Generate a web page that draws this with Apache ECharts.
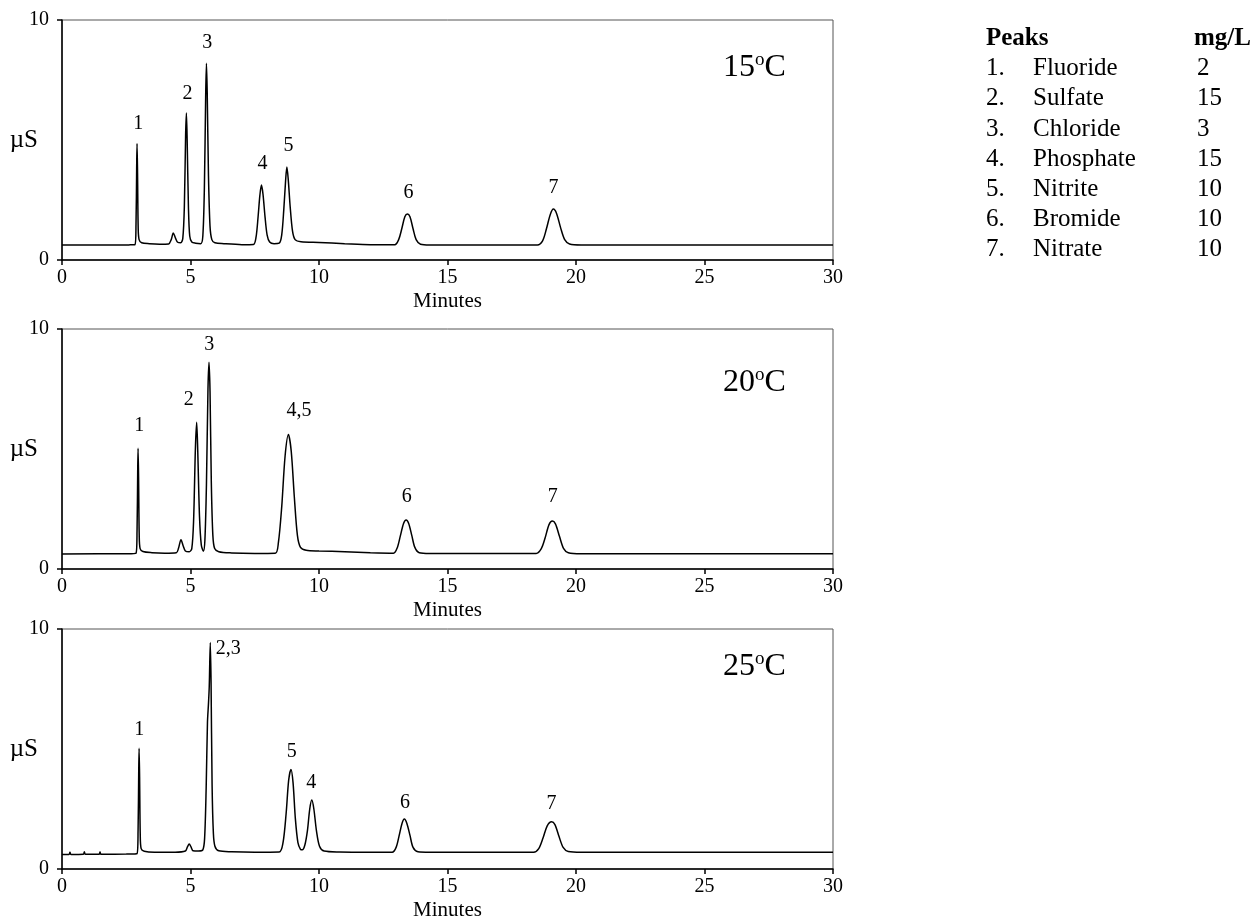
<!DOCTYPE html>
<html>
<head>
<meta charset="utf-8">
<title>Chromatograms at 15, 20 and 25 C</title>
<script src="https://cdn.jsdelivr.net/npm/echarts@6/dist/echarts.min.js"></script>
<style>
  html, body { margin: 0; padding: 0; background: #fff; }
  #chart { width: 1251px; height: 919px; }
</style>
</head>
<body>
<div id="chart"></div>
<script>
// data: [minutes, µS]
var trace15 = [
  [0, 0.62], [1.7, 0.62], [2.6, 0.63], [2.84, 0.64], [2.88, 1.5], [2.905, 3.8], [2.92, 4.85], [2.94, 3.6], [2.965, 1.3], [3.0, 0.85], [3.1, 0.72],
  [3.4, 0.68], [3.8, 0.66], [4.15, 0.67], [4.25, 0.85], [4.33, 1.12], [4.42, 0.9], [4.5, 0.74], [4.62, 0.72],
  [4.7, 0.9], [4.76, 2.2], [4.81, 5.2], [4.84, 6.12], [4.87, 5.0], [4.92, 2.2], [4.97, 1.0], [5.05, 0.75], [5.2, 0.7],
  [5.4, 0.68], [5.48, 1.0], [5.54, 3.0], [5.59, 6.8], [5.62, 8.2], [5.65, 7.0], [5.7, 3.5], [5.76, 1.4], [5.83, 0.85], [5.95, 0.72],
  [6.3, 0.68], [7, 0.64], [7.45, 0.65], [7.55, 0.95], [7.63, 1.8], [7.7, 2.7], [7.76, 3.12], [7.82, 2.75], [7.9, 1.8], [7.98, 1.05], [8.08, 0.75],
  [8.25, 0.68], [8.45, 0.7], [8.55, 1.05], [8.63, 2.1], [8.7, 3.3], [8.75, 3.87], [8.8, 3.4], [8.88, 2.2], [8.97, 1.2], [9.07, 0.85],
  [9.3, 0.76], [10, 0.73], [11, 0.68], [12, 0.64], [12.95, 0.64], [13.1, 0.85], [13.22, 1.3], [13.34, 1.8], [13.44, 1.92], [13.54, 1.8],
  [13.66, 1.3], [13.78, 0.85], [13.95, 0.66], [14.3, 0.63], [18.5, 0.63], [18.7, 0.8], [18.85, 1.3], [19.0, 1.9], [19.12, 2.12],
  [19.24, 1.95], [19.4, 1.35], [19.56, 0.85], [19.75, 0.67], [20.2, 0.63], [30, 0.63]
];
var trace20 = [
  [0, 0.63], [2.5, 0.64], [2.88, 0.66], [2.92, 1.6], [2.945, 4.0], [2.96, 5.03], [2.98, 3.8], [3.005, 1.4], [3.04, 0.85], [3.15, 0.73],
  [3.5, 0.68], [4.0, 0.66], [4.45, 0.68], [4.53, 0.85], [4.63, 1.22], [4.72, 0.95], [4.8, 0.75], [4.95, 0.72],
  [5.05, 0.85], [5.12, 2.0], [5.19, 5.0], [5.24, 6.11], [5.28, 5.0], [5.35, 2.2], [5.42, 1.0], [5.5, 0.74],
  [5.56, 1.2], [5.62, 3.5], [5.68, 7.5], [5.72, 8.61], [5.76, 7.4], [5.81, 3.6], [5.87, 1.4], [5.94, 0.85], [6.1, 0.72],
  [6.6, 0.67], [7.5, 0.65], [8.3, 0.66], [8.42, 1.1], [8.55, 2.6], [8.68, 4.7], [8.81, 5.6], [8.92, 4.9], [9.04, 3.0], [9.16, 1.4],
  [9.28, 0.9], [9.5, 0.78], [10, 0.75], [11, 0.72], [12, 0.68], [12.9, 0.66], [13.05, 0.9], [13.17, 1.4], [13.29, 1.9], [13.39, 2.04],
  [13.49, 1.9], [13.61, 1.4], [13.73, 0.9], [13.9, 0.68], [14.3, 0.65], [18.45, 0.65], [18.65, 0.85], [18.8, 1.3], [18.95, 1.85],
  [19.08, 2.0], [19.2, 1.88], [19.36, 1.35], [19.52, 0.85], [19.7, 0.68], [20.2, 0.64], [30, 0.64]
];
var trace25 = [
  [0, 0.6], [0.27, 0.6], [0.31, 0.7], [0.35, 0.6], [0.83, 0.61], [0.87, 0.72], [0.91, 0.61], [1.44, 0.61], [1.48, 0.71], [1.52, 0.61],
  [2.5, 0.62], [2.92, 0.64], [2.96, 1.6], [2.985, 4.0], [3.0, 5.03], [3.02, 3.8], [3.045, 1.4], [3.08, 0.85], [3.2, 0.74],
  [3.6, 0.7], [4.4, 0.7], [4.8, 0.75], [4.88, 0.92], [4.95, 1.04], [5.02, 0.92], [5.1, 0.76], [5.3, 0.75],
  [5.48, 0.8], [5.55, 1.3], [5.61, 3.4], [5.66, 6.1], [5.7, 6.9], [5.73, 7.6], [5.77, 9.44], [5.8, 7.8], [5.84, 3.5], [5.89, 1.5],
  [5.95, 0.95], [6.1, 0.76], [6.6, 0.72], [7.5, 0.7], [8.45, 0.71], [8.6, 1.1], [8.72, 2.3], [8.82, 3.7], [8.91, 4.15], [8.99, 3.6],
  [9.08, 2.1], [9.18, 1.1], [9.28, 0.82], [9.35, 0.8], [9.45, 1.0], [9.55, 1.6], [9.64, 2.5], [9.72, 2.87], [9.8, 2.5], [9.9, 1.6],
  [10.02, 0.95], [10.2, 0.75], [10.8, 0.71], [12, 0.7], [12.85, 0.7], [13.0, 0.9], [13.12, 1.4], [13.23, 1.9], [13.32, 2.08],
  [13.42, 1.9], [13.54, 1.4], [13.66, 0.9], [13.85, 0.72], [14.3, 0.7], [18.35, 0.7], [18.55, 0.85], [18.72, 1.3], [18.88, 1.8],
  [19.05, 1.97], [19.18, 1.85], [19.34, 1.35], [19.5, 0.9], [19.7, 0.73], [20.2, 0.7], [30, 0.7]
];

// peak labels: [minutes, µS, text]
var labels15 = [[2.97, 5.68, '1'], [4.88, 6.93, '2'], [5.65, 9.07, '3'], [7.8, 4.01, '4'], [8.81, 4.78, '5'], [13.48, 2.82, '6'], [19.12, 3.0, '7']];
var labels20 = [[3.01, 5.97, '1'], [4.93, 7.05, '2'], [5.73, 9.35, '3'], [9.22, 6.61, '4,5'], [13.41, 3.03, '6'], [19.1, 3.0, '7']];
var labels25 = [[3.01, 5.8, '1'], [6.47, 9.17, '2,3'], [8.94, 4.9, '5'], [9.7, 3.61, '4'], [13.35, 2.78, '6'], [19.05, 2.71, '7']];

var temps = ['15', '20', '25'];
var xTicks = [0, 5, 10, 15, 20, 25, 30];

var peakNames = ['Fluoride', 'Sulfate', 'Chloride', 'Phosphate', 'Nitrite', 'Bromide', 'Nitrate'];
var peakConc = ['2', '15', '3', '15', '10', '10', '10'];

var font = '"Liberation Serif", "Times New Roman", "DejaVu Serif", serif';

var chart = echarts.init(document.getElementById('chart'));

var traces = [trace15, trace20, trace25];
var peakLabels = [labels15, labels20, labels25];
var gridTops = [20, 329, 629];
var tempTops = [51, 366, 650];

var grids = [], xAxes = [], yAxes = [], series = [], titles = [];

gridTops.forEach(function (top, i) {
  grids.push({
    left: 62, top: top, width: 771, height: 240,
    outerBoundsMode: 'none',
    show: true, borderColor: '#555', borderWidth: 1
  });
  xAxes.push({
    gridIndex: i, type: 'value', min: 0, max: 30, interval: 5,
    name: 'Minutes', nameLocation: 'middle', nameGap: 31, nameMoveOverlap: false,
    nameTextStyle: { color: '#000', fontFamily: font, fontSize: 21 },
    axisLine: { lineStyle: { color: '#000', width: 1.5 } },
    axisTick: { length: 5, lineStyle: { color: '#000', width: 1.5 } },
    axisLabel: {
      color: '#000', fontFamily: font, fontSize: 20, margin: 8,
      formatter: function (v) { return xTicks.indexOf(v) >= 0 ? String(v) : ''; }
    },
    splitLine: { show: false }
  });
  yAxes.push({
    gridIndex: i, type: 'value', min: 0, max: 10, interval: 10,
    name: 'µS', nameLocation: 'middle', nameRotate: 0, nameGap: 24, nameMoveOverlap: false,
    nameTextStyle: { color: '#000', fontFamily: font, fontSize: 25 },
    axisLine: { show: true, lineStyle: { color: '#000', width: 1.5 } },
    axisTick: { show: true, length: 5, lineStyle: { color: '#000', width: 1.5 } },
    axisLabel: { color: '#000', fontFamily: font, fontSize: 20, margin: 13 },
    splitLine: { show: false }
  });
  series.push({
    type: 'line', xAxisIndex: i, yAxisIndex: i,
    data: traces[i], showSymbol: false, smooth: 0.3,
    lineStyle: { color: '#000', width: 1.5 },
    silent: true, animation: false
  });
  series.push({
    type: 'scatter', xAxisIndex: i, yAxisIndex: i,
    symbolSize: 0,
    itemStyle: { opacity: 1 },
    data: peakLabels[i].map(function (p) { return { value: [p[0], p[1]], name: p[2] }; }),
    label: {
      show: true, position: 'inside', formatter: '{b}', opacity: 1,
      color: '#000', fontFamily: font, fontSize: 20
    },
    silent: true, animation: false
  });
  titles.push({
    left: 723, top: tempTops[i], padding: 0,
    text: '{n|' + temps[i] + '}{s|o}{n|C}',
    textStyle: {
      fontWeight: 'normal',
      rich: {
        n: { fontFamily: font, fontSize: 32, fontWeight: 'normal', color: '#000', lineHeight: 34 },
        s: { fontFamily: font, fontSize: 19, fontWeight: 'normal', color: '#000', verticalAlign: 'top', lineHeight: 34 }
      }
    }
  });
});

// legend table on the right
var graphics = [];
var rowY = function (r) { return 40 + 30.2 * r; };
graphics.push({ type: 'text', left: 986, top: rowY(0) - 14, style: { text: 'Peaks', font: 'bold 25px ' + font, fill: '#000' } });
graphics.push({ type: 'text', left: 1194, top: rowY(0) - 14, style: { text: 'mg/L', font: 'bold 25px ' + font, fill: '#000' } });
peakNames.forEach(function (name, k) {
  var y = rowY(k + 1) - 14;
  graphics.push({ type: 'text', left: 986, top: y, style: { text: (k + 1) + '.', font: '25px ' + font, fill: '#000' } });
  graphics.push({ type: 'text', left: 1033, top: y, style: { text: name, font: '25px ' + font, fill: '#000' } });
  graphics.push({ type: 'text', left: 1197, top: y, style: { text: peakConc[k], font: '25px ' + font, fill: '#000' } });
});

chart.setOption({
  backgroundColor: '#fff',
  animation: false,
  title: titles,
  grid: grids,
  xAxis: xAxes,
  yAxis: yAxes,
  series: series,
  graphic: graphics
});
</script>
</body>
</html>
